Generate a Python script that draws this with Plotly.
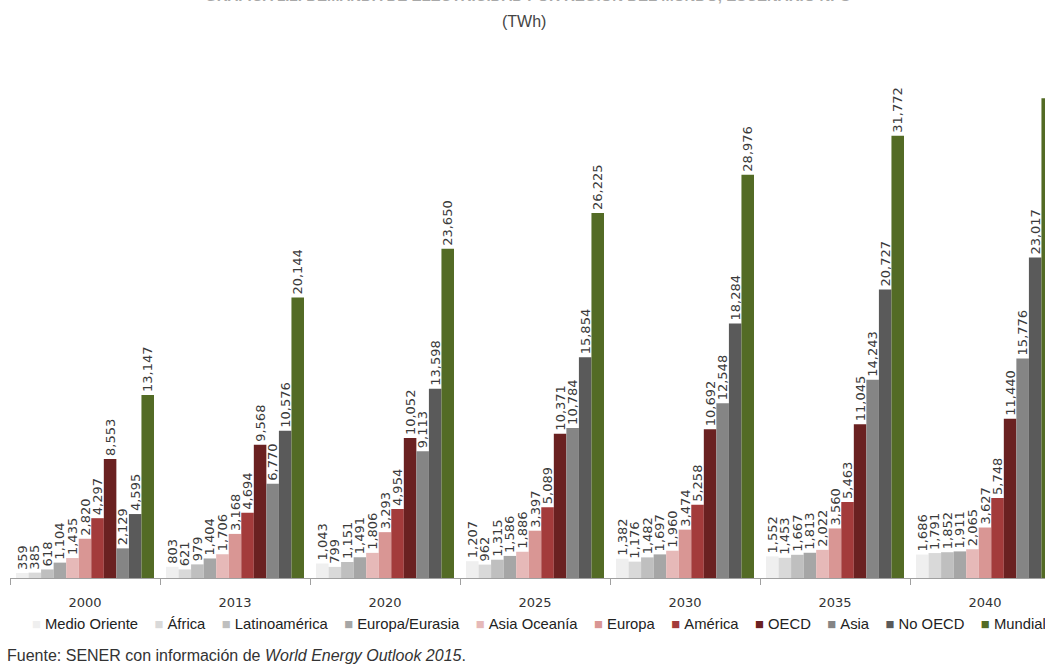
import plotly.graph_objects as go

years = ["2000", "2013", "2020", "2025", "2030", "2035", "2040"]
series = ["Medio Oriente", "África", "Latinoamérica", "Europa/Eurasia", "Asia Oceanía",
          "Europa", "América", "OECD", "Asia", "No OECD", "Mundial"]
colors = ["#efefef", "#d9d9d9", "#bfbfbf", "#a6a6a6", "#e6b9b8",
          "#d99694", "#a33b3b", "#6a2121", "#858585", "#5a5a5a", "#536b25"]

medio_oriente = [359, 803, 1043, 1207, 1382, 1552, 1686]
africa = [385, 621, 799, 962, 1176, 1453, 1791]
latinoamerica = [618, 979, 1151, 1315, 1482, 1667, 1852]
europa_eurasia = [1104, 1404, 1491, 1586, 1697, 1813, 1911]
asia_oceania = [1435, 1706, 1806, 1886, 1960, 2022, 2065]
europa = [2820, 3168, 3293, 3397, 3474, 3560, 3627]
america = [4297, 4694, 4954, 5089, 5258, 5463, 5748]
oecd = [8553, 9568, 10052, 10371, 10692, 11045, 11440]
asia = [2129, 6770, 9113, 10784, 12548, 14243, 15776]
no_oecd = [4595, 10576, 13598, 15854, 18284, 20727, 23017]
mundial = [13147, 20144, 23650, 26225, 28976, 31772, 34457]

values = [medio_oriente, africa, latinoamerica, europa_eurasia, asia_oceania,
          europa, america, oecd, asia, no_oecd, mundial]

fig = go.Figure()
for name, col, vals in zip(series, colors, values):
    fig.add_trace(go.Bar(
        name=name, x=years, y=vals, marker=dict(color=col, line=dict(width=0)),
        texttemplate="%{y:,}", textposition="outside", textangle=-90,
        textfont=dict(family="DejaVu Sans", size=13, color="#3a3a3a"),
        constraintext="none", cliponaxis=False, showlegend=False,
    ))

legend_text = "&nbsp;&nbsp;&nbsp;&nbsp;".join(
    f'<span style="color:{c}">■</span>&nbsp;{n}' for n, c in zip(series, colors)
)

fig.update_layout(
    width=1045, height=664,
    margin=dict(l=10, r=0, t=40, b=86),
    paper_bgcolor="white", plot_bgcolor="white",
    barmode="group", bargap=0.08, bargroupgap=0,
    xaxis=dict(type="category", range=[-0.5, 6.4], showline=True, linecolor="#a0a0a0",
               linewidth=1, ticks="outside", tickson="boundaries", ticklen=6,
               tickcolor="#a0a0a0", showgrid=False, ticklabelstandoff=12,
               tickfont=dict(family="DejaVu Sans", size=13, color="#333333")),
    yaxis=dict(range=[0, 38650], visible=False, showgrid=False, zeroline=False),
    annotations=[
        dict(text="<b>GRÁFICA 1.2. DEMANDA DE ELECTRICIDAD POR REGIÓN DEL MUNDO, ESCENARIO NPS</b>",
             xref="paper", yref="paper", x=0.5, y=1.0632, xanchor="center", yanchor="bottom",
             showarrow=False, font=dict(family="Liberation Sans", size=15, color="#a8a8a8")),
        dict(text="(TWh)", xref="paper", yref="paper", x=0.497, y=1.0, xanchor="center",
             yanchor="bottom", yshift=8, showarrow=False,
             font=dict(family="Liberation Sans", size=16, color="#444444")),
        dict(text=legend_text, xref="paper", yref="paper", x=0.019, y=0, xanchor="left",
             yanchor="middle", yshift=-46, showarrow=False, align="left",
             font=dict(family="Liberation Sans", size=14.8, color="#222222")),
        dict(text="Fuente: SENER con información de <i>World Energy Outlook 2015</i>.",
             xref="paper", yref="paper", x=-0.005, y=0, xanchor="left", yanchor="middle",
             yshift=-77, showarrow=False,
             font=dict(family="Liberation Sans", size=16, color="#333333")),
    ],
)

fig.write_html("out.html")
